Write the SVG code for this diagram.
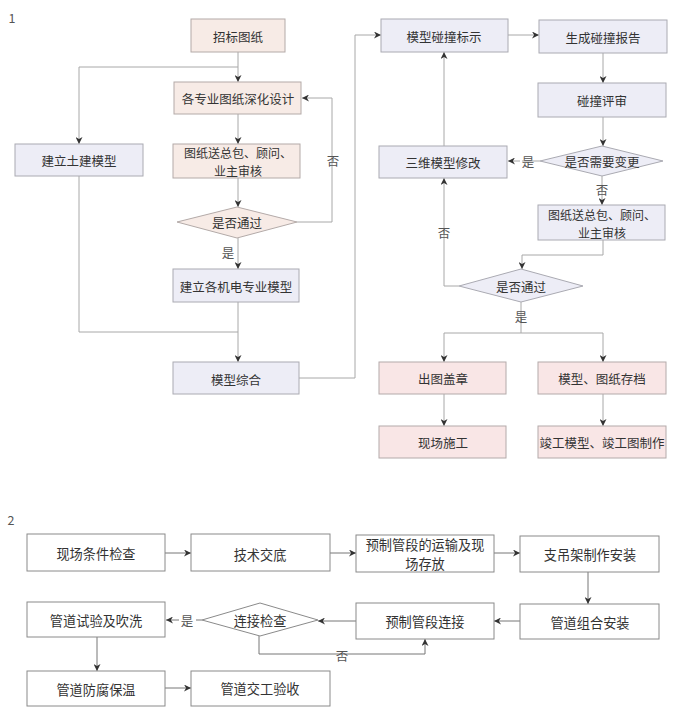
<svg xmlns="http://www.w3.org/2000/svg" width="681" height="714" viewBox="0 0 681 714">
<style>
text{font-family:"Noto Sans CJK SC","Noto Sans CJK JP",sans-serif;font-size:12.5px;fill:#333;text-anchor:middle;dominant-baseline:central}
.s2 text{font-size:13.2px}
.two{font-size:12px}
.peach{fill:#f7ebe6;stroke:#b3aaa8;stroke-width:1}
.lav{fill:#ededf6;stroke:#aaaab2;stroke-width:1}
.pink{fill:#f9e6e6;stroke:#b3aaaa;stroke-width:1}
.white{fill:#fff;stroke:#8a8a8a;stroke-width:1}
.ln{fill:none;stroke:#a8a8a8;stroke-width:1}
.ln2{fill:none;stroke:#777;stroke-width:1}
.lbl{fill:#555}
</style>
<defs>
<marker id="ah" viewBox="0 0 10 10" refX="10" refY="5" markerWidth="7" markerHeight="7" orient="auto" markerUnits="userSpaceOnUse">
<path d="M0,0 L10,5 L0,10 L3,5 Z" fill="#333"/>
</marker>
</defs>
<rect width="681" height="714" fill="#fff"/>
<text x="12" y="17" class="lbl" font-size="12">1</text>
<text x="11" y="519" class="lbl" font-size="13">2</text>

<g id="connectors">
<path class="ln" d="M238,52 V82" marker-end="url(#ah)"/>
<path class="ln" d="M238,67 H79 V144" marker-end="url(#ah)"/>
<path class="ln" d="M238,114 V144" marker-end="url(#ah)"/>
<path class="ln" d="M238,178 V207" marker-end="url(#ah)"/>
<path class="ln" d="M297,222 H332 V98 H302" marker-end="url(#ah)"/>
<path class="ln" d="M238,238 V269" marker-end="url(#ah)"/>
<path class="ln" d="M79,176 V332 H238"/>
<path class="ln" d="M238,302 V362" marker-end="url(#ah)"/>
<path class="ln" d="M299,378 H355 V35 H381" marker-end="url(#ah)"/>
<path class="ln" d="M508,35 H539" marker-end="url(#ah)"/>
<path class="ln" d="M603,53 V83" marker-end="url(#ah)"/>
<path class="ln" d="M603,117 V146" marker-end="url(#ah)"/>
<path class="ln" d="M540,161 H522"/>
<path class="ln" d="M520,161 H508" marker-end="url(#ah)"/>
<path class="ln" d="M444,146 V52" marker-end="url(#ah)"/>
<path class="ln" d="M602,176 V205" marker-end="url(#ah)"/>
<path class="ln" d="M603,240 V255 H522 V269" marker-end="url(#ah)"/>
<path class="ln" d="M459,286 H444 V178" marker-end="url(#ah)"/>
<path class="ln" d="M521,302 V333"/>
<path class="ln" d="M444,333 H603"/>
<path class="ln" d="M444,333 V362" marker-end="url(#ah)"/>
<path class="ln" d="M603,333 V362" marker-end="url(#ah)"/>
<path class="ln" d="M444,394 V426" marker-end="url(#ah)"/>
<path class="ln" d="M603,394 V426" marker-end="url(#ah)"/>
<path class="ln2" d="M165,553 H191" marker-end="url(#ah)"/>
<path class="ln2" d="M330,553 H356" marker-end="url(#ah)"/>
<path class="ln2" d="M494,553 H520" marker-end="url(#ah)"/>
<path class="ln2" d="M588,572 V604" marker-end="url(#ah)"/>
<path class="ln2" d="M520,621 H494" marker-end="url(#ah)"/>
<path class="ln2" d="M356,621 H318" marker-end="url(#ah)"/>
<path class="ln2" d="M202,620 H196"/>
<path class="ln2" d="M179,620 H166" marker-end="url(#ah)"/>
<path class="ln2" d="M259,636 V654 H425 V639" marker-end="url(#ah)"/>
<path class="ln2" d="M97,637 V671" marker-end="url(#ah)"/>
<path class="ln2" d="M165,688 H191" marker-end="url(#ah)"/>
</g>

<g id="labels">
<text x="333" y="160" class="lbl">否</text>
<text x="228" y="252" class="lbl">是</text>
<text x="528" y="161" class="lbl">是</text>
<text x="602" y="189" class="lbl">否</text>
<text x="444" y="232" class="lbl">否</text>
<text x="521" y="316" class="lbl">是</text>
<text x="187" y="620" class="lbl" font-size="13">是</text>
<text x="342" y="655" class="lbl" font-size="13">否</text>
</g>

<g id="n1"><rect class="peach" x="191" y="19" width="94" height="33"/><text x="238" y="36">招标图纸</text></g>
<g id="n2"><rect class="peach" x="174" y="82" width="127" height="32"/><text x="238" y="98">各专业图纸深化设计</text></g>
<g id="n3"><rect class="lav" x="15" y="144" width="128" height="32"/><text x="79" y="160">建立土建模型</text></g>
<g id="n4"><rect class="peach" x="173" y="144" width="127" height="34"/><text class="two" x="238" y="152">图纸送总包、顾问、</text><text class="two" x="238" y="170">业主审核</text></g>
<g id="n5"><polygon class="peach" points="237,207 297,222 237,238 177,222"/><text x="237" y="222">是否通过</text></g>
<g id="n6"><rect class="lav" x="173" y="269" width="126" height="33"/><text x="236" y="286">建立各机电专业模型</text></g>
<g id="n7"><rect class="lav" x="173" y="362" width="126" height="32"/><text x="236" y="379">模型综合</text></g>

<g id="n8"><rect class="lav" x="381" y="19" width="127" height="33"/><text x="444" y="36">模型碰撞标示</text></g>
<g id="n9"><rect class="lav" x="539" y="20" width="128" height="33"/><text x="603" y="37">生成碰撞报告</text></g>
<g id="n10"><rect class="lav" x="538" y="83" width="128" height="34"/><text x="602" y="100">碰撞评审</text></g>
<g id="n11"><polygon class="lav" points="602,146 663,161 602,176 540,161"/><text x="602" y="161">是否需要变更</text></g>
<g id="n12"><rect class="lav" x="379" y="146" width="128" height="32"/><text x="443" y="162">三维模型修改</text></g>
<g id="n13"><rect class="lav" x="538" y="205" width="127" height="35"/><text class="two" x="602" y="214">图纸送总包、顾问、</text><text class="two" x="602" y="232">业主审核</text></g>
<g id="n14"><polygon class="lav" points="521,269 583,286 521,302 459,286"/><text x="521" y="286">是否通过</text></g>
<g id="n15"><rect class="pink" x="379" y="362" width="127" height="32"/><text x="443" y="378">出图盖章</text></g>
<g id="n16"><rect class="pink" x="538" y="362" width="128" height="32"/><text x="602" y="378">模型、图纸存档</text></g>
<g id="n17"><rect class="pink" x="379" y="426" width="127" height="32"/><text x="443" y="442">现场施工</text></g>
<g id="n18"><rect class="pink" x="538" y="426" width="128" height="32"/><text x="602" y="442">竣工模型、竣工图制作</text></g>

<g class="s2">
<g id="m1"><rect class="white" x="27" y="534" width="138" height="37"/><text x="96" y="553">现场条件检查</text></g>
<g id="m2"><rect class="white" x="191" y="534" width="139" height="37"/><text x="260" y="554">技术交底</text></g>
<g id="m3"><rect class="white" x="356" y="535" width="138" height="37"/><text x="425" y="544">预制管段的运输及现</text><text x="425" y="563.5">场存放</text></g>
<g id="m4"><rect class="white" x="520" y="536" width="139" height="36"/><text x="590" y="554">支吊架制作安装</text></g>
<g id="m5"><rect class="white" x="520" y="604" width="139" height="35"/><text x="590" y="622">管道组合安装</text></g>
<g id="m6"><rect class="white" x="356" y="603" width="138" height="36"/><text x="425" y="621">预制管段连接</text></g>
<g id="m7"><polygon class="white" points="260,603 318,620 260,636 202,620"/><text x="260" y="620">连接检查</text></g>
<g id="m8"><rect class="white" x="27" y="602" width="138" height="35"/><text x="96" y="620">管道试验及吹洗</text></g>
<g id="m9"><rect class="white" x="27" y="671" width="138" height="35"/><text x="96" y="689">管道防腐保温</text></g>
<g id="m10"><rect class="white" x="191" y="671" width="139" height="35"/><text x="260" y="688">管道交工验收</text></g>
</g>
</svg>
